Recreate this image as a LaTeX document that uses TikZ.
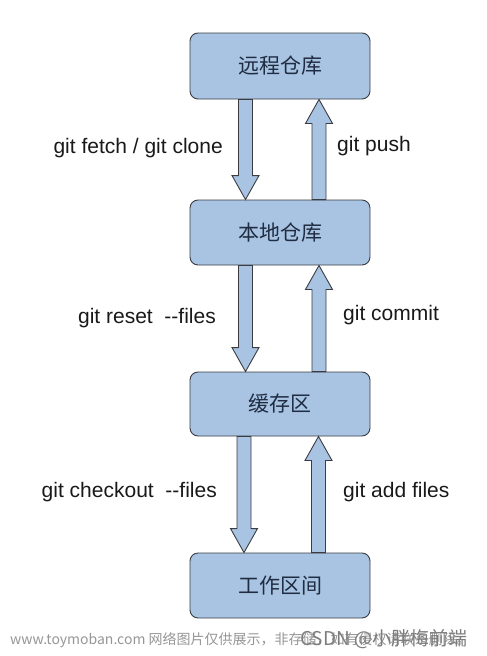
\documentclass[tikz,border=0pt]{standalone}
\usepackage{fontspec}
\setmainfont{Liberation Sans}
\newfontfamily\cjk{Noto Sans CJK SC}
\usepackage{xcolor}
\definecolor{boxblue}{RGB}{168,196,226}
\definecolor{edgegray}{RGB}{58,60,66}
\definecolor{cjknavy}{RGB}{32,44,66}
\definecolor{markgray}{RGB}{150,150,150}
\definecolor{csdngray}{RGB}{125,125,125}
\usetikzlibrary{calc}

\newcommand{\fatarrow}[2]{%
  \coordinate (s) at (#1);
  \coordinate (e) at (#2);
  \coordinate (h) at ($(e)!24pt!(s)$);
  \filldraw[fill=boxblue,draw=edgegray,line width=0.9pt]
    ($(s)!7pt!90:(e)$) -- ($(h)!7pt!-90:(s)$) -- ($(h)!13.5pt!-90:(s)$) -- (e)
    -- ($(h)!13.5pt!90:(s)$) -- ($(h)!7pt!90:(s)$) -- ($(s)!7pt!-90:(e)$) -- cycle;
}

\begin{document}
\begin{tikzpicture}[x=1pt,y=-1pt]
%\draw [help lines] (0,0) grid (487,656);
\tikzset{
	boxG/.style={
		rectangle,
		rounded corners=8pt,
		inner sep=0pt,
		minimum width=180pt,
		minimum height=65pt,
		draw=edgegray,
		line width=0.9pt,
		fill=boxblue,
		font=\cjk\fontsize{21}{25}\selectfont,
		text=cjknavy
	},
	lblL/.style={
		anchor=base east,
		inner sep=0pt,
		font=\fontsize{21}{25}\selectfont,
		text=black!90
	},
	lblR/.style={
		anchor=base west,
		inner sep=0pt,
		font=\fontsize{21}{25}\selectfont,
		text=black!90
	},
}
\useasboundingbox (0,0) rectangle (487,656);

\node (a) [boxG, minimum height=66pt] at (280,66) {远程仓库};
\node (b) [boxG] at (280,232.5) {本地仓库};
\node (c) [boxG, minimum height=64pt] at (280,404) {缓存区};
\node (d) [boxG] at (280,585.5) {工作区间};

\fatarrow{[xshift=-34.5pt]a.south}{[xshift=-34.5pt]b.north}
\fatarrow{[xshift=39pt]b.north}{[xshift=39pt]a.south}
\fatarrow{[xshift=-34.5pt]b.south}{[xshift=-34.5pt]c.north}
\fatarrow{[xshift=39pt]c.north}{[xshift=39pt]b.south}
\fatarrow{[xshift=-36pt]c.south}{[xshift=-36pt]d.north}
\fatarrow{[xshift=38.5pt]d.north}{[xshift=38.5pt]c.south}

\node (l1) [lblL] at (223,153) {git fetch / git clone};
\node (r1) [lblR] at (337,151) {git push};
\node (l2) [lblL] at (216,323) {git reset\ \ -{}-files};
\node (r2) [lblR] at (343,320) {git commit};
\node (l3) [lblL] at (217,497) {git checkout\ \ -{}-files};
\node (r3) [lblR] at (343,497) {git add files};

\node (w1) [anchor=base west, inner sep=0pt, text=markgray,
  font=\cjk\fontsize{14}{16}\selectfont] at (10,644)
  {www.toymoban.com 网络图片仅供展示，非存储，如有侵权请联系删除。};
\node (w2) [anchor=base west, inner sep=0pt, text=csdngray,
  font=\cjk\fontsize{19}{22}\selectfont] at (300,645) {CSDN @小胖梅前端};
\end{tikzpicture}
\end{document}
